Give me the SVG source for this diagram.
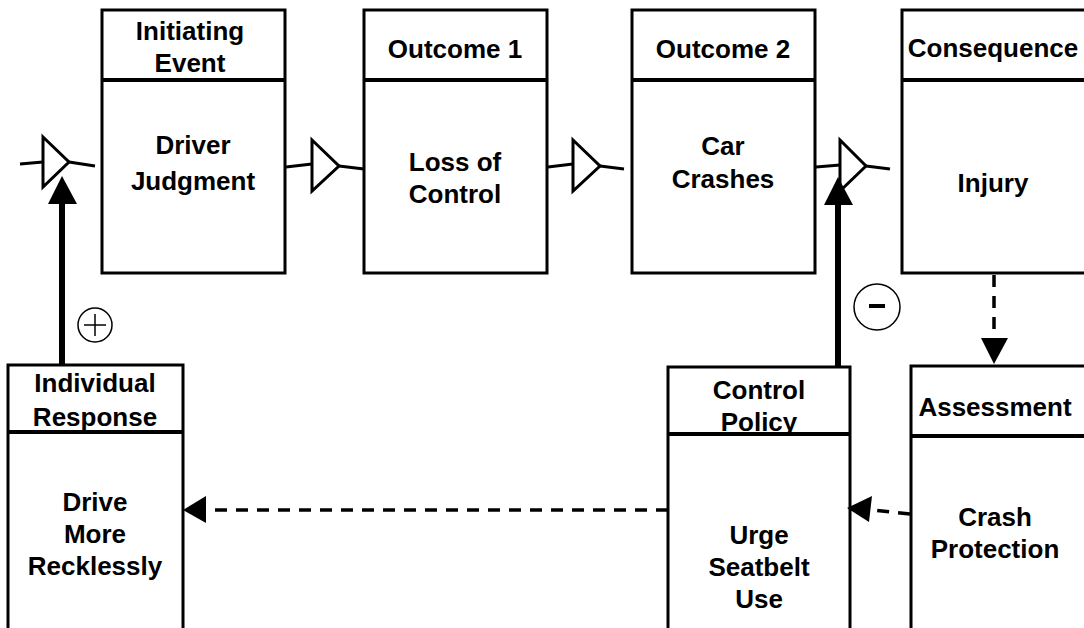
<svg xmlns="http://www.w3.org/2000/svg" width="1084" height="628" viewBox="0 0 1084 628">
<defs>
<style>
.box{fill:#fff;stroke:#000;stroke-width:3}
.div{stroke:#000;stroke-width:4}
.t{font-family:"Liberation Sans",Arial,sans-serif;font-weight:bold;font-size:26px;text-anchor:middle;fill:#000}
.amp{fill:#fff;stroke:#000;stroke-width:3;stroke-linejoin:miter}
.ln{stroke:#000;stroke-width:3;fill:none}
.thick{stroke:#000;stroke-width:6;fill:none}
.dash{stroke:#000;stroke-width:3.5;fill:none;stroke-dasharray:12 9}
.head{fill:#000;stroke:none}
</style>
</defs>
<rect width="1084" height="628" fill="#fff"/>
<g id="n-initiating">
<rect class="box" x="102" y="10" width="183" height="263"/>
<line class="div" x1="102" y1="80" x2="285" y2="80"/>
<text class="t" x="190" y="40">Initiating</text>
<text class="t" x="190" y="72">Event</text>
<text class="t" x="193" y="154">Driver</text>
<text class="t" x="193" y="190">Judgment</text>
</g>
<g id="n-outcome1">
<rect class="box" x="364" y="10" width="183" height="263"/>
<line class="div" x1="364" y1="80" x2="547" y2="80"/>
<text class="t" x="455" y="58">Outcome 1</text>
<text class="t" x="455" y="171">Loss of</text>
<text class="t" x="455" y="203">Control</text>
</g>
<g id="n-outcome2">
<rect class="box" x="632" y="10" width="183" height="263"/>
<line class="div" x1="632" y1="80" x2="815" y2="80"/>
<text class="t" x="723" y="58">Outcome 2</text>
<text class="t" x="723" y="155">Car</text>
<text class="t" x="723" y="188">Crashes</text>
</g>
<g id="n-consequence">
<rect class="box" x="902" y="10" width="184" height="263"/>
<line class="div" x1="902" y1="80" x2="1086" y2="80"/>
<text class="t" x="993" y="57">Consequence</text>
<text class="t" x="993" y="192">Injury</text>
</g>
<g id="n-individual">
<rect class="box" x="8" y="365" width="175" height="270"/>
<line class="div" x1="8" y1="432" x2="183" y2="432"/>
<text class="t" x="95" y="392">Individual</text>
<text class="t" x="95" y="426">Response</text>
<text class="t" x="95" y="511">Drive</text>
<text class="t" x="95" y="543">More</text>
<text class="t" x="95" y="575">Recklessly</text>
</g>
<g id="n-control">
<rect class="box" x="668" y="367" width="182" height="270"/>
<line class="div" x1="668" y1="434" x2="850" y2="434"/>
<text class="t" x="759" y="399">Control</text>
<text class="t" x="759" y="431">Policy</text>
<text class="t" x="759" y="544">Urge</text>
<text class="t" x="759" y="576">Seatbelt</text>
<text class="t" x="759" y="608">Use</text>
</g>
<g id="n-assessment">
<rect class="box" x="911" y="366" width="180" height="270"/>
<line class="div" x1="911" y1="436" x2="1091" y2="436"/>
<text class="t" x="995" y="416">Assessment</text>
<text class="t" x="995" y="526">Crash</text>
<text class="t" x="995" y="558">Protection</text>
</g>
<g id="connectors">
<g id="amp1">
<line class="ln" x1="20" y1="164" x2="43" y2="162"/>
<line class="ln" x1="69" y1="162" x2="95" y2="166"/>
<polygon class="amp" points="43,137 69,162 43,187"/>
</g>
<g id="amp2">
<line class="ln" x1="286" y1="167" x2="312" y2="164"/>
<line class="ln" x1="339" y1="166" x2="364" y2="169"/>
<polygon class="amp" points="312,140 339,166 312,191"/>
</g>
<g id="amp3">
<line class="ln" x1="548" y1="167" x2="573" y2="164"/>
<line class="ln" x1="600" y1="166" x2="624" y2="169"/>
<polygon class="amp" points="573,140 600,166 573,191"/>
</g>
<g id="amp4">
<line class="ln" x1="816" y1="167" x2="840" y2="165"/>
<line class="ln" x1="866" y1="166" x2="890" y2="169"/>
<polygon class="amp" points="840,140 866,166 840,191"/>
</g>
<line class="thick" x1="62" y1="365" x2="62" y2="200"/>
<polygon class="head" points="62,176 48,204 77,204"/>
<line class="thick" x1="838" y1="367" x2="838" y2="202"/>
<polygon class="head" points="838,177 824,205 853,205"/>
<circle cx="95" cy="325" r="17" fill="#fff" stroke="#000" stroke-width="1.5"/>
<line x1="84" y1="325" x2="106" y2="325" stroke="#000" stroke-width="1.5"/>
<line x1="95" y1="314" x2="95" y2="336" stroke="#000" stroke-width="1.5"/>
<circle cx="877" cy="307" r="23" fill="#fff" stroke="#000" stroke-width="1.5"/>
<line x1="869" y1="306" x2="885" y2="306" stroke="#000" stroke-width="4"/>
<line class="dash" x1="994" y1="275" x2="994" y2="338"/>
<polygon class="head" points="994,364 981,338 1008,338"/>
<line class="dash" x1="668" y1="510" x2="206" y2="510"/>
<polygon class="head" points="183,510 206,496 206,523"/>
<line class="dash" x1="910" y1="514" x2="872" y2="510"/>
<polygon class="head" points="847,508 872,496 869,522"/>
</g>
</svg>
